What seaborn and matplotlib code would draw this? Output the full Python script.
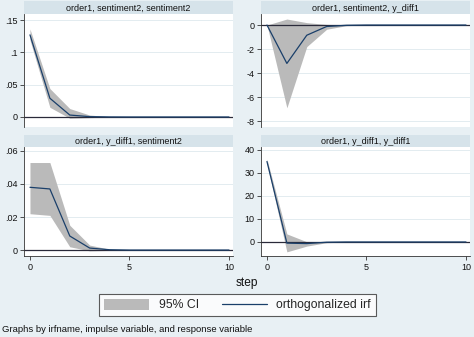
import numpy as np
import pandas as pd
import matplotlib
matplotlib.use("Agg")
import matplotlib.pyplot as plt
import seaborn as sns
from matplotlib.patches import Patch
from matplotlib.lines import Line2D

steps = [0, 1, 2, 3, 4, 5, 6, 7, 8, 9, 10]

# order1, sentiment2 -> sentiment2
irf_ss = [0.127, 0.029, 0.003, 0.0005, 0.0001, 0, 0, 0, 0, 0, 0]
lo_ss = [0.119, 0.015, -0.002, -0.001, -0.0002, 0, 0, 0, 0, 0, 0]
hi_ss = [0.136, 0.044, 0.013, 0.003, 0.0005, 0.0001, 0, 0, 0, 0, 0]

# order1, sentiment2 -> y_diff1
irf_sy = [0, -3.2, -0.85, -0.12, -0.02, 0, 0, 0, 0, 0, 0]
lo_sy = [0, -6.9, -1.8, -0.35, -0.05, 0, 0, 0, 0, 0, 0]
hi_sy = [0, 0.5, 0.2, 0.05, 0.01, 0, 0, 0, 0, 0, 0]

# order1, y_diff1 -> sentiment2
irf_ys = [0.038, 0.037, 0.0085, 0.0012, 0.0002, 0, 0, 0, 0, 0, 0]
lo_ys = [0.022, 0.021, 0.002, -0.0005, -0.0002, 0, 0, 0, 0, 0, 0]
hi_ys = [0.053, 0.053, 0.015, 0.003, 0.0005, 0, 0, 0, 0, 0, 0]

# order1, y_diff1 -> y_diff1
irf_yy = [35.0, -0.5, -0.7, -0.1, 0, 0, 0, 0, 0, 0, 0]
lo_yy = [34.0, -4.3, -1.8, -0.3, -0.05, 0, 0, 0, 0, 0, 0]
hi_yy = [36.0, 3.5, 0.1, 0.05, 0.02, 0, 0, 0, 0, 0, 0]

titles = ["order1, sentiment2, sentiment2", "order1, sentiment2, y_diff1",
          "order1, y_diff1, sentiment2", "order1, y_diff1, y_diff1"]
yticks = [[0, 0.05, 0.1, 0.15], [0, -2, -4, -6, -8],
          [0, 0.02, 0.04, 0.06], [0, 10, 20, 30, 40]]
yticklabels = [["0", ".05", ".1", ".15"], ["0", "-2", "-4", "-6", "-8"],
               ["0", ".02", ".04", ".06"], ["0", "10", "20", "30", "40"]]
xticks = [0, 5, 10]
legend_labels = ["95% CI", "orthogonalized irf"]
xlabel = "step"
caption = "Graphs by irfname, impulse variable, and response variable"

series = [(irf_ss, lo_ss, hi_ss), (irf_sy, lo_sy, hi_sy),
          (irf_ys, lo_ys, hi_ys), (irf_yy, lo_yy, hi_yy)]
ylims = [(-0.0155, 0.1593), (-8.5, 0.92), (-0.0036, 0.0624), (-6.1, 41.3)]

sns.set_style("white")
plt.rcParams['font.family'] = ['Liberation Sans', 'DejaVu Sans']
plt.rcParams['axes.unicode_minus'] = False

W, H = 474, 337
BG = "#e8f0f4"
STRIP = "#d6e3ea"
NAVY = "#1a3f6a"
CIGRAY = "#bababa"
AXC = "#333333"

fig = plt.figure(figsize=(W / 100, H / 100), dpi=100, facecolor=BG)

cols = [(24, 233), (261, 470)]
rows = [(1, 14, 127), (135, 147, 256)]

def fr(x0, y0, x1, y1):
    return [x0 / W, 1 - y1 / H, (x1 - x0) / W, (y1 - y0) / H]

for i in range(4):
    r, c = divmod(i, 2)
    x0, x1 = cols[c]
    ys, yp0, yp1 = rows[r]
    # strip
    sax = fig.add_axes(fr(x0, ys, x1, yp0))
    sax.set_facecolor(STRIP)
    sax.set_xticks([]); sax.set_yticks([])
    for s in sax.spines.values():
        s.set_visible(False)
    sax.text(0.5, 0.45, titles[i], ha="center", va="center", fontsize=6.5,
             color="#111111", transform=sax.transAxes)

    ax = fig.add_axes(fr(x0, yp0, x1, yp1))
    ax.set_facecolor("white")
    irf, lo, hi = series[i]
    df = pd.DataFrame({"step": steps, "irf": irf, "lo": lo, "hi": hi})
    ax.fill_between(df["step"], df["lo"], df["hi"], color=CIGRAY, lw=0, zorder=2)
    sns.lineplot(data=df, x="step", y="irf", ax=ax, color=NAVY, lw=0.9, zorder=3)
    ax.axhline(0, color="#2a2a3a", lw=0.9, zorder=2.5)
    for t in yticks[i]:
        ax.axhline(t, color="#e3ecf0", lw=0.7, zorder=1)
    ax.set_xlim(-0.3, 10.2)
    ax.set_ylim(*ylims[i])
    ax.set_yticks(yticks[i])
    ax.set_yticklabels(yticklabels[i])
    ax.set_xlabel(""); ax.set_ylabel("")
    ax.tick_params(axis="y", length=3, width=0.6, color=AXC, labelsize=6.5,
                   pad=1.5, left=True, labelcolor="#111111")
    for s in ["top", "right"]:
        ax.spines[s].set_visible(False)
    ax.spines["left"].set_color(AXC)
    ax.spines["left"].set_linewidth(0.6)
    if r == 1:
        ax.set_xticks(xticks)
        ax.set_xticklabels([str(v) for v in xticks])
        ax.tick_params(axis="x", length=3, width=0.6, color=AXC, labelsize=6.5,
                       pad=2, bottom=True, labelcolor="#111111")
        ax.spines["bottom"].set_color(AXC)
        ax.spines["bottom"].set_linewidth(0.6)
    else:
        ax.set_xticks([])
        ax.spines["bottom"].set_visible(False)

fig.text(247 / W, 1 - 283 / H, xlabel, ha="center", va="center", fontsize=8.6,
         color="#111111")

handles = [Patch(facecolor=CIGRAY, edgecolor="none"),
           Line2D([0], [0], color=NAVY, lw=0.9)]
leg = fig.legend(handles, legend_labels, ncol=2, loc="center",
                 bbox_to_anchor=(237.5 / W, 1 - 305 / H), fontsize=8.8,
                 frameon=True, fancybox=False, handlelength=3.7,
                 handleheight=1.0, handletextpad=0.75, columnspacing=1.9,
                 borderpad=0.4, borderaxespad=0)
leg.get_frame().set_edgecolor("#333333")
leg.get_frame().set_linewidth(0.8)
leg.get_frame().set_facecolor("white")

fig.text(2 / W, 1 - 329 / H, caption, ha="left", va="center", fontsize=6.8,
         color="#111111")

fig.savefig("out.png", dpi=100, facecolor=BG)
